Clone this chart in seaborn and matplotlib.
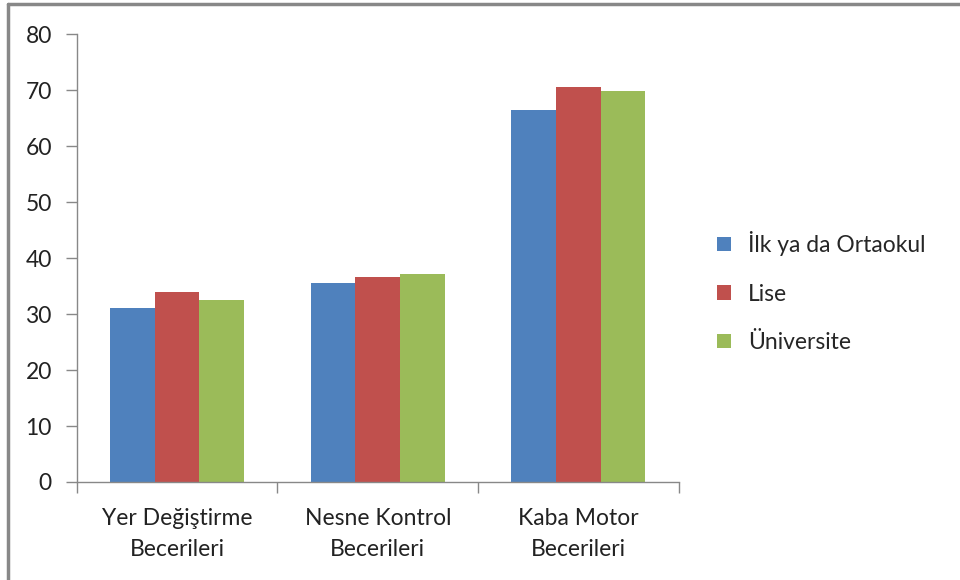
import matplotlib
matplotlib.use("Agg")
import matplotlib.pyplot as plt
import matplotlib.lines as mlines
import pandas as pd
import seaborn as sns

categories = ["Yer Değiştirme\nBecerileri", "Nesne Kontrol\nBecerileri", "Kaba Motor\nBecerileri"]
groups = ["İlk ya da Ortaokul", "Lise", "Üniversite"]
ilk_orta = [31.0, 35.6, 66.5]
lise = [34.0, 36.7, 70.6]
universite = [32.6, 37.2, 69.9]
colors = ["#4F81BD", "#C0504D", "#9BBB59"]

df = pd.DataFrame({
    "kategori": categories * 3,
    "grup": [groups[0]] * 3 + [groups[1]] * 3 + [groups[2]] * 3,
    "deger": ilk_orta + lise + universite,
})

sns.set_theme(style="white")
plt.rcParams["font.family"] = ["Lato", "DejaVu Sans"]

fig = plt.figure(figsize=(9.6, 5.8), dpi=100)
ax = fig.add_axes([0.080, 0.169, 0.627, 0.772])

sns.barplot(data=df, x="kategori", y="deger", hue="grup", palette=colors,
            width=0.667, gap=0, saturation=1, edgecolor="none", ax=ax)

ax.set_ylim(0, 80)
ax.set_xlim(-0.5, 2.5)
ax.set_yticks(range(0, 81, 10))
ax.set_xlabel("")
ax.set_ylabel("")
ax.tick_params(axis="y", left=True, length=8, width=1, color="#888888",
               labelsize=16.5, pad=10, labelcolor="#222222")
ax.tick_params(axis="x", bottom=False, labelsize=16.5, pad=13, labelcolor="#222222")
for lbl in ax.get_xticklabels():
    lbl.set_linespacing(1.55)
ax.set_xticks([-0.5, 0.5, 1.5, 2.5], minor=True)
ax.tick_params(axis="x", which="minor", bottom=True, length=8, width=1, color="#888888")
for s in ["top", "right"]:
    ax.spines[s].set_visible(False)
for s in ["left", "bottom"]:
    ax.spines[s].set_color("#888888")
    ax.spines[s].set_linewidth(1)

ax.legend(loc="center left", bbox_to_anchor=(1.03, 0.424), frameon=False,
          fontsize=16.5, handlelength=0.6, handleheight=0.6, labelspacing=1.2,
          handletextpad=0.75)

# outer chart frame (only top and left edges visible)
fig.add_artist(mlines.Line2D([0.0088, 1.0], [0.9935, 0.9935], transform=fig.transFigure,
                             color="#888888", linewidth=2.5))
fig.add_artist(mlines.Line2D([0.0088, 0.0088], [0.0, 0.9935], transform=fig.transFigure,
                             color="#888888", linewidth=2.5))

fig.savefig("out.png", dpi=100)
